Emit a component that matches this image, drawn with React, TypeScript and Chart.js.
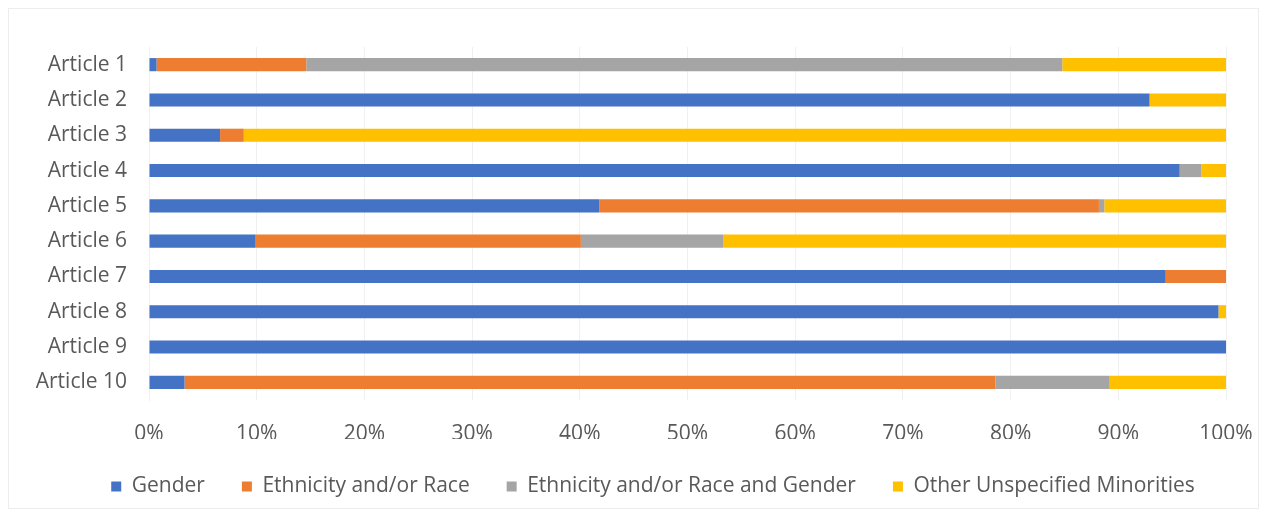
import React, { useEffect, useRef } from "react";
import { Chart, registerables } from "chart.js";

Chart.register(...registerables);

const categories = ["Article 1", "Article 2", "Article 3", "Article 4", "Article 5", "Article 6", "Article 7", "Article 8", "Article 9", "Article 10"];
const gender = [0.7, 92.9, 6.6, 95.7, 41.8, 9.9, 94.4, 99.3, 100, 3.3];
const ethnicityRace = [13.9, 0, 2.2, 0, 46.4, 30.2, 5.6, 0, 0, 75.3];
const ethnicityRaceGender = [70.2, 0, 0, 2.0, 0.5, 13.2, 0, 0, 0, 10.6];
const otherMinorities = [15.2, 7.1, 91.2, 2.3, 11.3, 46.7, 0, 0.7, 0, 10.8];
const seriesNames = ["Gender", "Ethnicity and/or Race", "Ethnicity and/or Race and Gender", "Other Unspecified Minorities"];
const seriesColors = ["#4472C4", "#ED7D31", "#A5A5A5", "#FFC000"];
const xTicks = [0, 10, 20, 30, 40, 50, 60, 70, 80, 90, 100];

const FONT = "'Open Sans', 'Noto Sans', sans-serif";
const FS = 21;

const legendShift = {
  id: "legendShift",
  afterLayout(chart: any) {
    const lg = chart.legend;
    if (lg) {
      lg.left += 40;
      lg.right += 40;
    }
  },
};

export default function App() {
  const ref = useRef<HTMLCanvasElement | null>(null);
  useEffect(() => {
    if (!ref.current) return;
    const values = [gender, ethnicityRace, ethnicityRaceGender, otherMinorities];
    const chart = new Chart(ref.current, {
      type: "bar",
      data: {
        labels: categories,
        datasets: values.map((v, i) => ({
          label: seriesNames[i],
          data: v,
          backgroundColor: seriesColors[i],
          borderWidth: 0,
          barPercentage: 0.62,
          categoryPercentage: 0.6,
        })),
      },
      options: {
        indexAxis: "y",
        animation: false,
        responsive: true,
        maintainAspectRatio: false,
        layout: { padding: { left: 0, right: 45, top: 47, bottom: 10 } },
        plugins: {
          legend: {
            position: "bottom",
            labels: {
              boxWidth: 10,
              boxHeight: 10,
              color: "#595959",
              font: { family: FONT, size: FS },
              padding: 37,
            },
          },
          tooltip: { enabled: false },
        },
        scales: {
          x: {
            stacked: true,
            min: 0,
            max: 100,
            afterBuildTicks: (scale: any) => {
              scale.ticks = xTicks.map((t) => ({ value: t }));
            },
            afterFit: (scale: any) => {
              scale.height = 39;
              scale.paddingRight = 0;
              scale.paddingLeft = 0;
            },
            ticks: {
              padding: 21,
              color: "#595959",
              font: { family: FONT, size: FS },
              callback: (v: any) => v + "%",
            },
            grid: { color: "#F0F0F0", drawTicks: false },
            border: { display: false },
          },
          y: {
            stacked: true,
            afterFit: (scale: any) => {
              scale.width = 149;
            },
            ticks: {
              padding: 22,
              color: "#595959",
              font: { family: FONT, size: FS },
            },
            grid: { display: false, drawTicks: false },
            border: { display: true, color: "#F0F0F0" },
          },
        },
      },
      plugins: [legendShift],
    });
    return () => chart.destroy();
  }, []);
  return (
    <div style={{ position: "fixed", left: 0, top: 0, width: 1271, height: 517, background: "#fff" }}>
      <div style={{ position: "absolute", left: 8, top: 8, right: 12, bottom: 8, border: "1px solid #EDEDED" }} />
      <canvas ref={ref} style={{ position: "absolute", left: 0, top: 0 }} />
    </div>
  );
}
